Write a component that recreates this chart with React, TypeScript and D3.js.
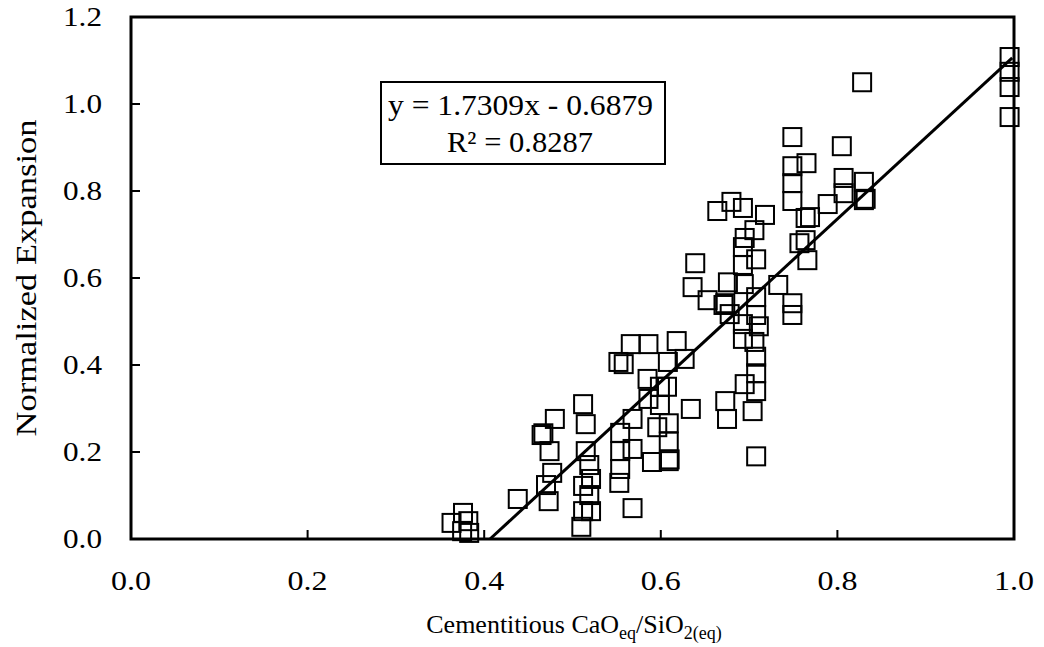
import React from "react";
import * as d3 from "d3";

const xValues: number[] = [
  0.363, 0.376, 0.382, 0.375, 0.383, 0.438, 0.473, 0.47, 0.477, 0.474,
  0.465, 0.467, 0.48, 0.512, 0.515, 0.515, 0.519, 0.512, 0.521, 0.519,
  0.512, 0.521, 0.51, 0.553, 0.554, 0.554, 0.554, 0.568, 0.568, 0.568,
  0.552, 0.558, 0.566, 0.586, 0.585, 0.599, 0.607, 0.586, 0.599, 0.618,
  0.608, 0.627, 0.634, 0.596, 0.609, 0.609, 0.609, 0.61, 0.59, 0.693,
  0.706, 0.708, 0.708, 0.708, 0.695, 0.673, 0.675, 0.704, 0.708, 0.749,
  0.749, 0.765, 0.749, 0.749, 0.764, 0.769, 0.757, 0.764, 0.766, 0.664,
  0.68, 0.693, 0.718, 0.706, 0.695, 0.693, 0.693, 0.708, 0.639, 0.636,
  0.653, 0.671, 0.673, 0.676, 0.694, 0.708, 0.678, 0.708, 0.711, 0.693,
  0.733, 0.749, 0.749, 0.828, 0.805, 0.807, 0.807, 0.83, 0.83, 0.832,
  0.789, 0.995, 0.995, 0.995, 0.995,
];

const yValues: number[] = [
  0.037, 0.06, 0.041, 0.018, 0.014, 0.092, 0.087, 0.124, 0.152, 0.202,
  0.239, 0.243, 0.276, 0.31, 0.264, 0.202, 0.17, 0.122, 0.138, 0.101,
  0.064, 0.064, 0.028, 0.129, 0.161, 0.202, 0.244, 0.276, 0.207, 0.071,
  0.407, 0.402, 0.448, 0.448, 0.368, 0.35, 0.35, 0.322, 0.308, 0.455,
  0.407, 0.414, 0.299, 0.257, 0.266, 0.224, 0.179, 0.183, 0.177, 0.46,
  0.453, 0.419, 0.381, 0.34, 0.356, 0.317, 0.276, 0.294, 0.19, 0.924,
  0.857, 0.864, 0.818, 0.777, 0.738, 0.74, 0.68, 0.687, 0.641, 0.754,
  0.775, 0.761, 0.745, 0.71, 0.692, 0.671, 0.63, 0.643, 0.634, 0.579,
  0.549, 0.538, 0.542, 0.59, 0.586, 0.556, 0.517, 0.515, 0.489, 0.494,
  0.584, 0.542, 0.515, 1.05, 0.903, 0.83, 0.795, 0.821, 0.779, 0.782,
  0.77, 1.108, 1.074, 1.039, 0.97,
];

// Trendline as drawn in the picture (start on the x axis, end at the right edge)
const trendX: number[] = [0.4066, 0.998];
const trendY: number[] = [0, 1.106];

const xTicks: number[] = [0, 0.2, 0.4, 0.6, 0.8, 1.0];
const yTicks: number[] = [0, 0.2, 0.4, 0.6, 0.8, 1.0, 1.2];

const equationText = "y = 1.7309x - 0.6879";
const r2Text = "R² = 0.8287";

const W = 1044;
const H = 647;
const left = 131;
const right = 1014;
const top = 17;
const bottom = 539;
const FONT = "Liberation Serif";
const ts: React.CSSProperties = { fontFamily: FONT };

export default function App() {
  const x = d3.scaleLinear().domain([0, 1]).range([left, right]);
  const y = d3.scaleLinear().domain([0, 1.2]).range([bottom, top]);
  const pts = xValues.map((v, i) => [v, yValues[i]] as [number, number]);
  const lineGen = d3
    .line<[number, number]>()
    .x((d) => x(d[0]))
    .y((d) => y(d[1]));
  const trend = trendX.map((v, i) => [v, trendY[i]] as [number, number]);
  const fmt = d3.format(".1f");
  const ms = 18;
  return (
    <svg
      width={W}
      height={H}
      style={{ position: "absolute", left: 0, top: 0, background: "#fff" }}
    >
      <rect x={0} y={0} width={W} height={H} fill="#fff" />
      {pts.map((p, i) => (
        <rect
          key={i}
          x={x(p[0]) - ms / 2}
          y={y(p[1]) - ms / 2}
          width={ms}
          height={ms}
          fill="none"
          stroke="#000"
          strokeWidth={2}
        />
      ))}
      <path d={lineGen(trend) || ""} stroke="#000" strokeWidth={3} fill="none" />
      {xTicks.map((t) => (
        <g key={"x" + t}>
          <line x1={x(t)} x2={x(t)} y1={bottom} y2={bottom - 9} stroke="#000" strokeWidth={2} />
          <text
            x={x(t)}
            y={590}
            textAnchor="middle"
            fontSize={28}
            textLength={40}
            lengthAdjust="spacingAndGlyphs"
            style={ts}
          >
            {fmt(t)}
          </text>
        </g>
      ))}
      {yTicks.map((t) => (
        <g key={"y" + t}>
          <line x1={left} x2={left + 9} y1={y(t)} y2={y(t)} stroke="#000" strokeWidth={2} />
          <text
            x={63}
            y={y(t) + 9}
            fontSize={28}
            textLength={39}
            lengthAdjust="spacingAndGlyphs"
            style={ts}
          >
            {fmt(t)}
          </text>
        </g>
      ))}
      <rect
        x={left}
        y={top}
        width={right - left}
        height={bottom - top}
        fill="none"
        stroke="#000"
        strokeWidth={3}
      />
      <rect x={381} y={82} width={284} height={82} fill="#fff" stroke="#000" strokeWidth={2} />
      <text
        x={388}
        y={115}
        fontSize={30}
        textLength={265}
        lengthAdjust="spacingAndGlyphs"
        style={ts}
      >
        {equationText}
      </text>
      <text
        x={447}
        y={152}
        fontSize={30}
        textLength={146}
        lengthAdjust="spacingAndGlyphs"
        style={ts}
      >
        {r2Text}
      </text>
      <text x={574} y={633} textAnchor="middle" fontSize={26} style={ts}>
        Cementitious CaO
        <tspan fontSize={18} dy={6}>eq</tspan>
        <tspan dy={-6}>/SiO</tspan>
        <tspan fontSize={18} dy={6}>2(eq)</tspan>
      </text>
      <text
        transform={`translate(36, 278) rotate(-90)`}
        textAnchor="middle"
        fontSize={30}
        textLength={317}
        lengthAdjust="spacingAndGlyphs"
        style={ts}
      >
        Normalized Expansion
      </text>
    </svg>
  );
}
